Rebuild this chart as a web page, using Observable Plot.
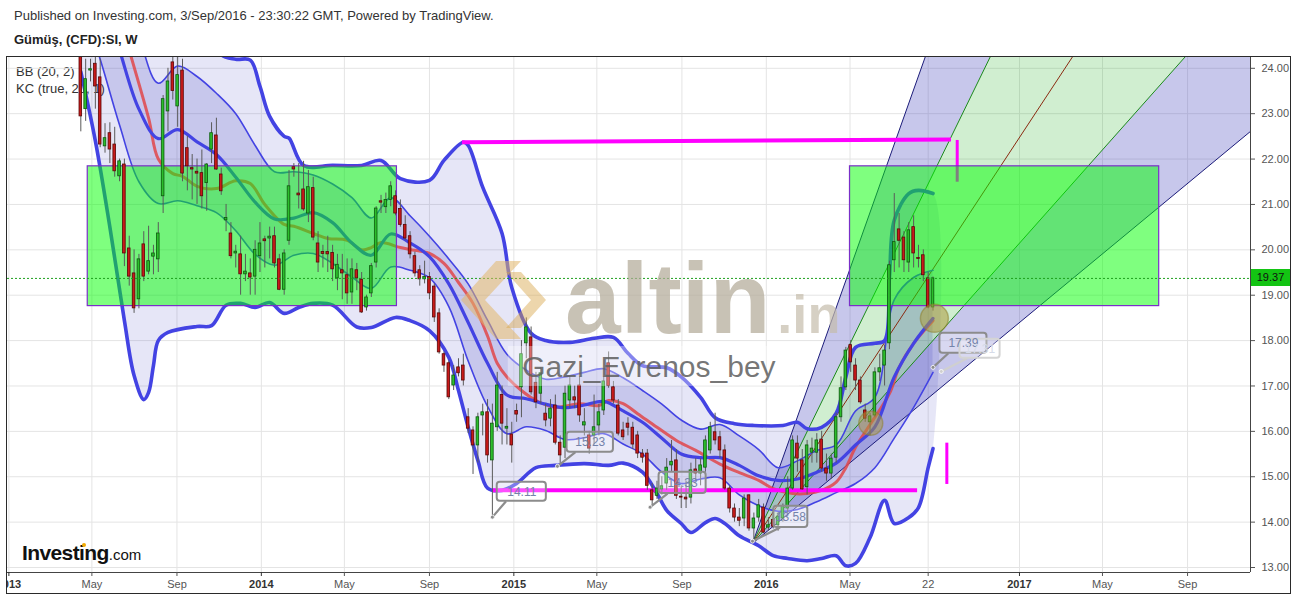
<!DOCTYPE html>
<html>
<head>
<meta charset="utf-8">
<script src="https://cdn.jsdelivr.net/npm/d3@7"></script>
<script src="https://cdn.jsdelivr.net/npm/@observablehq/plot@0.6"></script>
<style>
  html,body{margin:0;padding:0;background:#fff;}
  body{font-family:Arial,"Liberation Sans",sans-serif;}
  #wrap{position:relative;width:1297px;height:596px;overflow:hidden;background:#fff;}
  #hdr{position:relative;height:50px;}
  #chart{position:relative;z-index:1;}
  .ov{position:absolute;pointer-events:none;white-space:nowrap;}
</style>
</head>
<body>
<div id="wrap">
  <div id="hdr">
    <div class="ov" style="left:14px;top:8px;font-size:13px;color:#333;">Published on Investing.com, 3/Sep/2016 - 23:30:22 GMT, Powered by TradingView.</div>
    <div class="ov" style="left:14px;top:32px;font-size:13px;font-weight:bold;color:#222;">Gümüş, (CFD):SI, W</div>
  </div>
  <div class="ov" style="left:16px;top:64px;font-size:13px;color:#333;z-index:0;">BB (20, 2)</div>
  <div class="ov" style="left:16px;top:81px;font-size:13px;color:#333;z-index:0;">KC (true, 20, 1)</div>
  <div id="chart"></div>
  <svg class="ov" style="left:0;top:0;z-index:2" width="1297" height="596">
    <polygon points="496,261 521,261 485,300 521,339 496,339 461,300" fill="#e2b769" fill-opacity="0.55"/>
    <polygon points="506,272 521,272 546,300 521,328 506,328 531,300" fill="#d7a548" fill-opacity="0.45"/>
  </svg>
  <div class="ov" style="left:22px;top:541px;z-index:3;color:#111;">
    <span style="font-size:21px;font-weight:bold;letter-spacing:-0.6px;">Investing</span><span style="font-size:15px;">.com</span>
  </div>
  <div class="ov" style="left:82px;top:543px;width:4px;height:4px;border-radius:2px;background:#f2a900;z-index:4;"></div>
  <div class="ov" style="left:0;top:56px;width:6px;height:540px;background:#fff;z-index:3;"></div>
  <div class="ov" style="left:6px;top:56px;width:1285px;height:538px;border:1px solid #2a2a2a;box-sizing:border-box;z-index:3;"></div>
  <div id="plabel" class="ov" style="left:1251px;width:39px;height:17px;background:#13c413;color:#111;font-size:11px;line-height:17px;text-align:center;z-index:4;">19.37</div>
</div>
<script>
// ---------- candles (weekly, first bar = week of 2013-04-15) ----------
const firstWeek = "2013-04-15";
const open = [
25.0,23.10,23.95,24.1,23.8,22.28,22.57,22.32,21.62,21.88,
20.03,19.48,18.91,20.12,19.52,19.85,19.79,21.18,23.05,24.13,
23.16,23.95,22.24,21.8,21.72,21.69,21.47,22.21,22.52,21.66,
20.65,20.36,19.92,19.9,19.46,19.48,19.41,19.86,20.23,20.25,
20.3,19.79,19.12,20.2,21.82,21.24,21.33,20.8,21.36,20.14,
19.95,19.95,19.93,19.37,19.55,19.44,19.06,19.55,19.34,18.73,
19.04,19.72,21.07,20.94,21.1,21.18,20.9,20.55,20.3,19.86,
19.55,19.35,19.4,19.19,18.6,17.7,17.5,17.01,17.41,17.45,
16.31,16.02,15.69,16.35,16.42,15.36,16.09,16.8,16.06,15.93,
16.45,16.97,17.94,18.07,17.07,16.83,16.39,16.28,16.57,15.75,
15.64,16.68,16.75,17.01,16.13,15.91,15.91,16.13,16.46,17.5,
16.97,16.57,16.02,16.17,16.08,15.91,15.51,15.51,14.7,14.58,
14.72,14.85,15.25,15.36,14.56,14.54,14.54,15.16,15.07,15.2,
15.58,15.98,15.87,15.58,14.74,14.3,14.1,14.08,14.59,13.86,
14.1,14.32,13.88,14.05,13.93,14.08,14.3,14.74,15.73,15.36,
14.77,15.53,15.53,15.82,15.18,15.07,15.42,16.31,16.97,17.9,
17.45,17.12,16.46,16.2,16.35,17.3,17.45,17.94,19.77,20.45,
20.27,19.72,20.5,19.82,19.88,19.37,18.73];
const high = [
25.3,24.2,24.2,24.26,24.2,22.78,22.8,22.7,22.0,22.0,
20.3,20.0,19.9,20.4,20.52,20.1,20.6,23.4,24.0,24.3,
24.3,24.2,22.5,22.1,22.0,22.2,21.9,22.8,22.9,21.8,
21.0,20.6,20.1,20.3,19.9,19.8,20.2,20.6,20.3,20.5,
20.5,19.9,20.0,21.75,21.9,21.9,21.95,21.75,21.6,20.4,
20.1,20.3,20.1,19.9,19.9,19.8,19.8,19.7,19.5,19.0,
19.7,20.95,21.2,21.25,21.5,21.3,21.1,20.75,20.4,19.95,
19.65,19.75,19.5,19.25,18.7,17.75,17.55,17.45,17.6,17.7,
16.5,16.1,16.4,16.6,16.7,16.6,17.3,17.0,16.5,16.2,
16.6,18.0,18.5,18.3,17.3,17.4,16.6,16.7,16.8,15.9,
17.0,17.2,17.0,17.2,16.5,16.0,16.8,16.6,17.2,17.75,
17.1,16.7,16.2,16.3,16.2,16.0,15.6,15.6,14.85,14.9,
15.0,15.4,15.8,15.6,14.8,14.9,15.3,15.4,15.4,15.9,
16.2,16.4,16.0,15.7,14.8,14.4,14.3,14.6,14.6,14.2,
14.5,14.4,14.1,14.3,14.2,14.4,15.0,15.9,15.9,15.6,
15.8,15.85,15.95,16.0,15.5,15.5,16.4,17.2,17.85,18.0,
17.6,17.2,16.6,16.4,17.4,17.7,17.9,19.75,21.24,20.8,
20.4,20.6,20.75,20.1,20.0,19.5,19.4];
const low = [
22.6,22.83,23.7,23.1,22.25,22.13,21.9,21.6,21.5,19.63,
19.2,18.6,18.7,19.3,19.45,19.45,19.5,20.8,22.6,23.3,
22.7,21.5,21.3,21.1,21.0,20.9,20.85,21.9,21.75,21.2,
20.4,19.8,19.6,19.0,19.3,19.0,19.0,19.5,19.6,19.8,
19.6,19.1,19.0,20.1,21.6,20.9,20.85,20.6,20.2,19.5,
19.6,19.5,19.3,19.1,18.9,18.8,18.8,19.1,18.6,18.65,
18.95,19.6,20.8,20.8,20.95,20.75,20.5,20.2,19.8,19.4,
19.2,19.25,18.9,18.4,17.7,17.3,16.7,16.9,17.2,17.0,
15.95,15.05,15.3,15.9,15.3,14.11,16.0,15.7,15.7,15.3,
16.2,16.3,17.6,16.8,16.5,16.6,16.1,16.1,15.7,15.23,
15.4,16.5,16.5,16.2,15.9,15.5,15.7,15.9,16.35,16.95,
16.6,15.9,15.8,15.9,15.6,15.4,15.3,14.7,14.33,14.5,
14.6,14.7,15.1,14.5,14.3,14.3,14.4,14.9,14.8,15.1,
15.5,15.7,15.4,14.7,14.2,14.0,13.9,13.9,13.8,13.58,
14.0,13.75,13.8,13.85,13.8,14.0,14.2,14.7,15.1,14.7,
14.6,15.3,15.3,15.1,14.9,14.95,15.3,16.2,16.9,17.3,
16.9,16.6,16.2,15.9,16.3,17.1,17.0,17.8,19.5,19.6,
19.5,19.5,19.6,19.6,19.3,18.7,18.65];
const close = [
22.94,23.76,23.98,23.6,22.32,22.46,22.21,21.73,21.95,19.92,
19.41,18.71,19.79,19.41,19.75,19.92,20.36,23.32,23.71,23.5,
23.85,21.68,21.84,21.77,21.68,21.18,21.88,22.57,21.77,21.29,
20.7,19.86,19.96,19.46,19.52,19.39,20.0,20.14,20.19,20.29,
19.7,19.12,19.92,21.4,21.77,21.2,20.89,21.38,20.27,19.72,
19.91,19.9,19.57,19.67,19.48,19.04,19.57,19.37,18.62,18.95,
19.64,20.91,21.04,21.1,21.4,20.8,20.55,20.25,19.9,19.48,
19.35,19.4,19.04,18.51,17.74,17.45,16.75,17.23,17.28,17.12,
16.06,15.69,16.31,16.42,15.47,16.17,17.01,16.17,16.1,15.69,
16.37,17.7,18.29,16.86,16.64,17.28,16.24,16.5,15.75,15.47,
16.83,17.01,16.68,16.35,16.2,15.62,16.09,16.42,17.1,17.0,
16.68,15.95,15.87,16.08,15.71,15.51,15.42,14.8,14.48,14.74,
14.79,15.2,15.33,14.58,14.54,14.5,15.14,15.07,15.25,15.8,
16.09,15.8,15.58,14.74,14.3,14.1,14.03,14.52,13.86,14.08,
14.37,13.77,13.93,13.9,14.12,14.35,14.74,15.8,15.4,14.72,
15.69,15.62,15.8,15.18,15.07,15.4,16.31,16.95,17.78,17.52,
17.12,16.64,16.28,16.33,17.3,17.39,17.78,19.66,20.17,20.2,
19.77,20.43,19.92,19.8,19.44,18.73,19.37];

// ---------- Bollinger Bands (20,2) (week index -> price) ----------
const bbUpWeek = [0,10,20,26,29,32,35,37,39,42,43,46,52,58,62,66,72,75,79,80,83,87,89,93,96,101,106,110,113,116,121,124,128,131,135,139,145,148,150,153,156,158,160,164,166,167,168,171,173,176];
const bbUpVal  = [31.5,30.0,27.5,25.2,24.3,24.2,24.18,23.6,22.94,22.5,22.46,21.86,21.86,21.86,21.97,21.57,21.53,21.97,22.37,22.3,21.38,20.36,19.17,18.16,18.0,17.96,18.05,18.07,17.72,17.45,17.4,17.2,16.75,16.3,16.17,16.13,16.13,16.2,16.06,16.09,16.4,17.2,17.85,17.94,18.0,19.4,20.65,21.24,21.31,21.24];
const bbLoWeek = [0,3,6,9,11,13,14,15,16,18,24,27,30,33,36,39,42,45,48,52,57,60,65,68,72,76,78,80,82,84,87,90,94,98,104,109,112,116,119,121,124,126,129,131,133,136,140,143,146,150,153,156,158,160,163,166,168,171,173,175,176];
const bbLoVal  = [23.92,22.4,20.5,18.44,17.23,16.7,16.86,17.45,18.0,18.18,18.31,18.33,18.78,18.82,18.73,18.84,18.6,18.73,18.82,18.78,18.3,18.29,18.51,18.44,18.22,17.63,16.9,16.09,15.36,14.75,14.7,14.85,15.2,15.25,15.29,15.25,15.3,15.1,14.63,14.26,13.97,13.77,13.99,14.08,13.97,13.7,13.48,13.26,13.2,13.15,13.2,13.26,13.04,13.09,13.66,14.48,13.97,14.1,14.32,15.2,15.62];
const bbBasisWeek = [0,5,10,14,16,19,21,24,28,32,35,38,42,44,48,51,55,58,60,62,66,69,72,75,78,81,84,86,88,91,94,98,103,107,109,112,115,119,123,127,132,136,140,143,147,150,153,156,158,160,163,167,169,172,176];
const bbBasisVal  = [27.5,26.3,24.4,22.9,22.0,21.68,21.62,21.4,21.35,21.52,21.46,21.0,20.56,20.52,20.36,20.25,20.21,20.0,20.05,20.16,20.05,19.99,19.92,19.7,19.28,18.82,18.1,17.5,17.2,16.9,16.68,16.53,16.61,16.57,16.68,16.61,16.39,16.09,15.8,15.58,15.28,15.09,14.92,14.74,14.63,14.63,14.7,14.88,15.2,15.65,16.15,16.83,17.41,17.94,18.44];

// ---------- Keltner Channel (true,20,1) sampled every 4 weeks ----------
const kcWeek  = [0,4,8,12,16,20,24,28,32,36,40,44,48,52,56,60,64,68,72,76,80,84,88,92,96,100,104,108,112,116,120,124,128,132,136,140,144,148,152,156,160,164,168,172,176];
const kcUpper = [28.5,27.5,25.9,24.7,23.67,24.05,23.82,23.45,23.0,22.3,21.72,21.72,21.65,21.45,21.15,20.7,21.15,20.75,20.3,19.8,19.25,18.45,17.7,17.35,17.15,17.2,17.3,17.38,17.18,16.9,16.6,16.25,16.05,16.15,15.9,15.6,15.2,15.35,15.58,15.7,16.45,16.75,18.9,19.39,19.55];
const kcBasis = [27.0,25.8,24.4,23.1,22.45,22.65,22.38,22.1,21.6,21.05,20.68,20.7,20.82,20.6,20.15,19.88,20.35,20.15,19.85,19.25,18.4,17.5,16.8,16.72,16.6,16.52,16.58,16.66,16.45,16.2,15.85,15.5,15.42,15.42,15.25,15.02,14.92,14.95,15.1,15.3,15.7,16.1,17.2,17.94,18.49];
const kcLower = [25.5,24.2,22.75,21.5,21.02,21.08,20.97,20.82,20.42,19.9,19.66,19.88,19.92,19.7,19.4,19.15,19.62,19.55,19.38,18.75,17.55,16.55,15.95,16.1,16.02,15.82,15.86,15.95,15.72,15.5,15.1,14.85,14.95,14.98,14.6,14.36,14.24,14.28,14.45,14.65,14.85,15.2,15.85,16.53,17.3];

// ---------- drawings ----------
const boxStart = ["2013-04-25","2016-05-01"];
const boxEnd   = ["2014-07-16","2017-07-22"];
const boxLow   = [18.76,18.76];
const boxHigh  = [21.84,21.84];

const hLineStart = ["2014-10-18","2014-12-01"];
const hLineEnd   = ["2016-09-24","2016-08-06"];
const hLineFrom  = [22.37,14.70];
const hLineTo    = [22.43,14.70];
const vLineDate  = ["2016-10-03","2016-09-18"];
const vLineTop   = [22.41,15.74];
const vLineBottom= [21.49,14.83];

const fanOriginDate = "2015-12-12", fanOriginPrice = 13.53;
const fanEndDate  = ["2016-08-18","2016-11-20","2017-03-19","2017-08-29","2017-12-01"];
const fanEndPrice = [24.26,24.26,24.26,24.26,22.61];

const circleDate  = ["2016-08-31","2016-05-31"];
const circlePrice = [18.49,16.18];

const calloutText = ["14.11","15.23","14.33","13.58","17.39","17.31"];
const calloutX1   = ["2014-12-08","2015-03-19","2015-07-30","2016-01-12","2016-09-08","2016-10-07"];
const calloutX2   = ["2015-02-17","2015-05-25","2015-10-06","2016-03-01","2016-11-15","2016-12-04"];
const calloutHigh = [14.88,15.98,15.10,14.35,18.16,18.03];
const calloutLow  = [14.46,15.54,14.63,13.88,17.72,17.61];
const tipDate     = ["2014-12-01","2015-03-05","2015-07-17","2015-12-12","2016-08-29","2016-09-10"];
const tipPrice    = [14.11,15.23,14.33,13.58,17.41,17.32];

const watermarkText  = ["altin", ".in", "Gazi_Evrenos_bey"];
const watermarkDate  = ["2015-03-16","2016-01-17","2015-01-13"];
const watermarkPrice = [18.87,18.54,17.40];
const nameBoxDate = ["2014-12-24","2016-02-18"], nameBoxPrice = [16.99,17.87];

const lastPrice = 19.37;
const yTicks = [13,14,15,16,17,18,19,20,21,22,23,24];
const xTickDates  = ["2013-01-01","2013-05-01","2013-09-01","2014-01-01","2014-05-01","2014-09-01","2015-01-01","2015-05-01","2015-09-01","2016-01-01","2016-05-01","2016-08-22","2017-01-01","2017-05-01","2017-09-01"];
const xTickLabels = ["2013","May","Sep","2014","May","Sep","2015","May","Sep","2016","May","22","2017","May","Sep"];

// ---------- build ----------
const DAY = 864e5;
const D = s => new Date(s + "T00:00:00Z");
const w0 = +D(firstWeek);
const wk = i => new Date(w0 + i * 7 * DAY);
const X0 = D("2012-12-30"), X1 = D("2017-12-01");
const Y0 = 12.89, Y1 = 24.26;

const candles = open.map((o, i) => ({date: wk(i), o, h: high[i], l: low[i], c: close[i]}));
const series = (wks, vals) => wks.map((w, k) => ({date: wk(w), v: vals[k]}));
const bbUp = series(bbUpWeek, bbUpVal), bbLo = series(bbLoWeek, bbLoVal), bbMid = series(bbBasisWeek, bbBasisVal);
const kc = kcWeek.map((w, k) => ({date: wk(w), up: kcUpper[k], mid: kcBasis[k], lo: kcLower[k]}));
const bbPoly = [...bbUp, ...bbLo.slice().reverse()];

const boxes = boxStart.map((s, k) => ({x1: D(s), x2: D(boxEnd[k]), y1: boxLow[k], y2: boxHigh[k]}));
const hLines = hLineStart.map((s, k) => ({x1: D(s), x2: D(hLineEnd[k]), y1: hLineFrom[k], y2: hLineTo[k]}));
const vLines = vLineDate.map((s, k) => ({x: D(s), y1: vLineTop[k], y2: vLineBottom[k]}));
const fo = {date: D(fanOriginDate), v: fanOriginPrice};
const fe = fanEndDate.map((s, k) => ({date: D(s), v: fanEndPrice[k]}));
const rays = fe.map(e => ({x1: fo.date, y1: fo.v, x2: e.date, y2: e.v}));
const rayColors = ["#1c1c7a", "#1b8a1b", "#8a2a10", "#1b8a1b", "#1c1c7a"];
const fanA = [fo, fe[0], fe[1]];
const fanG = [fo, fe[1], fe[3]];
const fanB = [fo, fe[3], {date: X1, v: Y1}, fe[4]];
const circles = circleDate.map((s, k) => ({date: D(s), v: circlePrice[k]}));
const calls = calloutText.map((t, k) => ({t, x1: D(calloutX1[k]), x2: D(calloutX2[k]), hi: calloutHigh[k], lo: calloutLow[k], tx: D(tipDate[k]), ty: tipPrice[k], faint: k === 5}));
const wm = watermarkText.map((t, k) => ({t, date: D(watermarkDate[k]), v: watermarkPrice[k]}));
const wmStyle = [
  {fontSize: 100, fontWeight: "bold", fill: "#b3aa98", op: 0.72},
  {fontSize: 54, fontWeight: "bold", fill: "#c4bcab", op: 0.7},
  {fontSize: 30, fontWeight: "normal", fill: "#5e5e5e", op: 0.85}
];
const xt = xTickDates.map(D);
const lab = new Map(xt.map((d, k) => [+d, xTickLabels[k]]));
const isYear = d => /^\d{4}$/.test(lab.get(+d));

const BLUE = "#4343e3";
const chart = Plot.plot({
  width: 1297, height: 546,
  marginTop: 6, marginBottom: 24, marginLeft: 7, marginRight: 47,
  x: {type: "utc", domain: [X0, X1]},
  y: {domain: [Y0, Y1]},
  style: {fontFamily: "Arial, 'Liberation Sans', sans-serif", fontSize: "11px", color: "#555", background: "transparent", overflow: "visible"},
  marks: [
    Plot.gridX(xt, {stroke: "#e4e4e4", strokeOpacity: 1}),
    Plot.gridY(yTicks, {stroke: "#e4e4e4", strokeOpacity: 1}),
    // band fills
    Plot.line(bbPoly, {x: "date", y: "v", fill: "rgb(80,80,200)", fillOpacity: 0.14, stroke: "none", curve: "catmull-rom", clip: true}),
    Plot.areaY(kc, {x: "date", y1: "lo", y2: "up", fill: "rgb(60,60,190)", fillOpacity: 0.18, curve: "catmull-rom", clip: true}),
    // fan
    Plot.line(fanA, {x: "date", y: "v", fill: "rgb(70,70,190)", fillOpacity: 0.3, stroke: "none", clip: true}),
    Plot.line(fanG, {x: "date", y: "v", fill: "rgb(20,170,20)", fillOpacity: 0.2, stroke: "none", clip: true}),
    Plot.line(fanB, {x: "date", y: "v", fill: "rgb(70,70,190)", fillOpacity: 0.3, stroke: "none", clip: true}),
    Plot.link(rays, {x1: "x1", y1: "y1", x2: "x2", y2: "y2", stroke: (d, i) => rayColors[i], strokeWidth: 1, clip: true}),
    // band lines
    Plot.line(kc, {x: "date", y: "up", stroke: BLUE, strokeWidth: 1.6, curve: "catmull-rom", clip: true}),
    Plot.line(kc, {x: "date", y: "lo", stroke: BLUE, strokeWidth: 1.6, curve: "catmull-rom", clip: true}),
    Plot.line(bbMid, {x: "date", y: "v", stroke: "#e0464a", strokeWidth: 3, strokeOpacity: 0.85, curve: "catmull-rom", clip: true}),
    Plot.line(kc, {x: "date", y: "mid", stroke: BLUE, strokeWidth: 3.2, curve: "catmull-rom", clip: true}),
    Plot.line(bbUp, {x: "date", y: "v", stroke: BLUE, strokeWidth: 3.6, curve: "catmull-rom", clip: true}),
    Plot.line(bbLo, {x: "date", y: "v", stroke: BLUE, strokeWidth: 3.6, curve: "catmull-rom", clip: true}),
    // magenta levels
    Plot.link(hLines, {x1: "x1", y1: "y1", x2: "x2", y2: "y2", stroke: "#ff00ff", strokeWidth: 4, clip: true}),
    Plot.ruleX(vLines, {x: "x", y1: "y1", y2: "y2", stroke: "#ff00ff", strokeWidth: 3, clip: true}),
    // green boxes
    Plot.rect(boxes, {x1: "x1", x2: "x2", y1: "y1", y2: "y2", fill: "#00ff00", fillOpacity: 0.5, stroke: "#7a2fc8", strokeWidth: 1.2, clip: true}),
    // candles
    Plot.ruleX(candles, {x: "date", y1: "l", y2: "h", stroke: "#5a5a5a", strokeWidth: 1, clip: true}),
    Plot.rect(candles, {
      x1: d => new Date(+d.date - 1.9 * DAY), x2: d => new Date(+d.date + 1.9 * DAY),
      y1: "o", y2: "c",
      fill: d => d.c >= d.o ? "#2cbd2c" : "#c81a1a",
      stroke: d => d.c >= d.o ? "#0c5a0c" : "#5a0707",
      strokeWidth: 0.8, clip: true
    }),
    // last price
    Plot.ruleY([lastPrice], {stroke: "#1da01d", strokeDasharray: "2,2", strokeWidth: 1}),
    // circles
    Plot.dot(circles.slice(0, 1), {x: "date", y: "v", r: 14, fill: "#ab9a3c", fillOpacity: 0.55, stroke: "#8c7d2c", strokeOpacity: 0.5, clip: true}),
    Plot.dot(circles.slice(1), {x: "date", y: "v", r: 12, fill: "#ab9a3c", fillOpacity: 0.5, stroke: "#8c7d2c", strokeOpacity: 0.5, clip: true}),
    // callouts
    Plot.link(calls, {x1: d => new Date(+d.x1 + 0.18 * (d.x2 - d.x1)), y1: "lo", x2: "tx", y2: "ty", stroke: d => d.faint ? "#cfcfcf" : "#8c8c8c", strokeWidth: 2.2}),
    Plot.dot(calls, {x: "tx", y: "ty", r: 2, fill: d => d.faint ? "#cfcfcf" : "#8c8c8c", stroke: "white", strokeWidth: 0.8}),
    Plot.rect(calls, {x1: "x1", x2: "x2", y1: "lo", y2: "hi", rx: 3, fill: "white", fillOpacity: 0.3, stroke: d => d.faint ? "#d4d4d4" : "#8c8c8c", strokeWidth: 2}),
    Plot.text(calls, {x: d => new Date((+d.x1 + +d.x2) / 2), y: d => (d.hi + d.lo) / 2, text: "t", fill: d => d.faint ? "#d6dbe8" : "#7483aa", fontSize: 12}),
    // watermark
    Plot.rect([0], {x1: () => D(nameBoxDate[0]), x2: () => D(nameBoxDate[1]), y1: () => nameBoxPrice[0], y2: () => nameBoxPrice[1], fill: "white", fillOpacity: 0.35}),
    ...wm.map((d, k) => Plot.text([d], {x: "date", y: "v", text: "t", textAnchor: "start", fontSize: wmStyle[k].fontSize, fontWeight: wmStyle[k].fontWeight, fill: wmStyle[k].fill, fillOpacity: wmStyle[k].op})),
    // axes
    Plot.ruleY([Y0], {stroke: "#444"}),
    Plot.ruleX([X1], {stroke: "#444"}),
    Plot.axisY(yTicks, {anchor: "right", tickSize: 4, tickPadding: 7, tickFormat: d => d.toFixed(2), label: null, color: "#555", fontSize: 11}),
    Plot.axisX(xt.filter(d => !isYear(d)), {anchor: "bottom", tickSize: 4, tickPadding: 4, tickFormat: d => lab.get(+d), label: null, color: "#555", fontSize: 11}),
    Plot.axisX(xt.filter(isYear), {anchor: "bottom", tickSize: 4, tickPadding: 4, tickFormat: d => lab.get(+d), label: null, color: "#333", fontSize: 11, fontWeight: "bold"})
  ]
});
document.getElementById("chart").appendChild(chart);
const yPix = chart.scale("y").apply(lastPrice) + 50;
document.getElementById("plabel").style.top = (yPix - 8.5) + "px";
</script>
</body>
</html>
